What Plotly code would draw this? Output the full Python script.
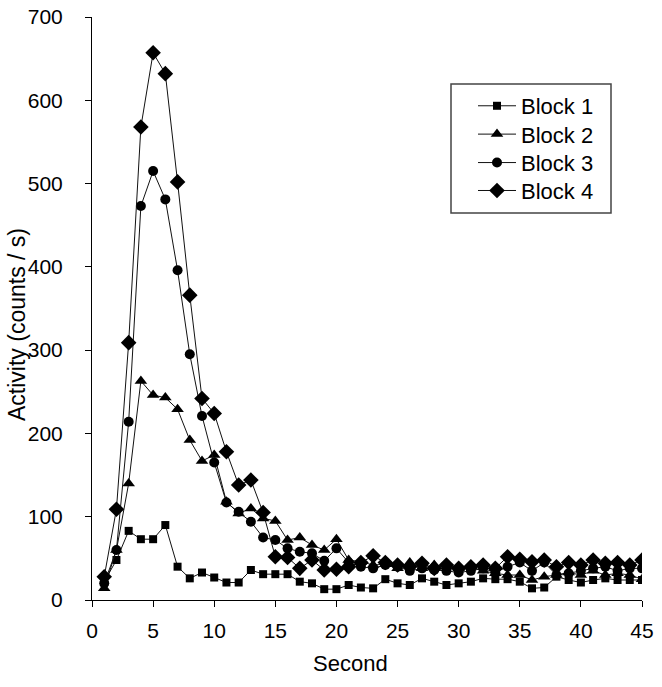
import plotly.graph_objects as go

seconds = list(range(1, 46))

block1 = [22, 48, 83, 73, 73, 90, 40, 26, 33, 27,
          21, 21, 36, 31, 31, 31, 22, 20, 13, 13,
          18, 15, 14, 25, 20, 18, 26, 22, 18, 20,
          22, 26, 25, 25, 22, 14, 15, 28, 24, 21,
          24, 26, 24, 24, 24]
block2 = [14, 60, 140, 263, 246, 243, 229, 192, 167, 174,
          118, 104, 110, 98, 95, 72, 75, 66, 60, 73,
          48, 46, 42, 43, 38, 45, 38, 42, 40, 38,
          40, 35, 32, 30, 30, 24, 28, 30, 33, 30,
          35, 30, 32, 30, 25]
block3 = [20, 60, 214, 473, 515, 481, 396, 295, 221, 165,
          117, 106, 94, 75, 72, 62, 58, 56, 47, 62,
          45, 40, 38, 42, 40, 35, 38, 36, 35, 33,
          35, 38, 33, 40, 45, 35, 45, 30, 32, 35,
          38, 40, 35, 38, 38]
block4 = [28, 109, 309, 568, 657, 632, 502, 366, 242, 224,
          178, 138, 144, 105, 52, 51, 38, 48, 36, 37,
          40, 45, 53, 45, 42, 40, 44, 38, 42, 38,
          40, 42, 38, 52, 49, 46, 48, 40, 45, 42,
          48, 44, 45, 42, 48]

names = ["Block 1", "Block 2", "Block 3", "Block 4"]
series = [block1, block2, block3, block4]
symbols = ["square", "triangle-up", "circle", "diamond"]
sizes = [8, 11, 10, 12]
x_ticks = [0, 5, 10, 15, 20, 25, 30, 35, 40, 45]
y_ticks = [0, 100, 200, 300, 400, 500, 600, 700]

FONT = "Arial, Liberation Sans, sans-serif"

legend_ids = ["legend", "legend2", "legend3", "legend4"]
legend_tops = [0.8834, 0.8348, 0.7860, 0.7381]

W, H = 662, 687
L, R, T, B = 92, 20, 17, 87
PW, PH = W - L - R, H - T - B


def px(x):
    return (x - L) / PW


def py(y):
    return (H - B - y) / PH


fig = go.Figure()
for name, vals, sym, sz, lid in zip(names, series, symbols, sizes, legend_ids):
    fig.add_trace(go.Scatter(
        x=seconds, y=vals, name=name, mode="lines+markers",
        line=dict(color="#111", width=1),
        marker=dict(symbol=sym, size=sz, color="black", line=dict(width=0)),
        legend=lid,
    ))

# legend frame
fig.add_shape(type="rect", xref="paper", yref="paper",
              x0=px(451), x1=px(611), y0=py(213), y1=py(84),
              line=dict(color="#444", width=1.5), fillcolor="rgba(0,0,0,0)")

fig.add_annotation(text="Activity (counts / s)", xref="paper", yref="paper",
                   x=px(17), y=py(325), xanchor="center", yanchor="middle",
                   textangle=-90, showarrow=False,
                   font=dict(family=FONT, size=23, color="black"))
fig.add_annotation(text="Second", xref="paper", yref="paper",
                   x=px(350), y=py(663), xanchor="center", yanchor="middle",
                   showarrow=False,
                   font=dict(family=FONT, size=22, color="black"))

legend_layout = {}
for lid, top in zip(legend_ids, legend_tops):
    legend_layout[lid] = dict(
        x=px(473), y=top, xanchor="left", yanchor="top",
        borderwidth=0, bgcolor="rgba(0,0,0,0)", itemwidth=38,
        font=dict(family=FONT, size=22, color="black"),
    )

fig.update_layout(
    width=W, height=H,
    margin=dict(l=L, r=R, t=T, b=B),
    paper_bgcolor="white", plot_bgcolor="white",
    font=dict(family=FONT, color="black", size=21),
    showlegend=True,
    xaxis=dict(
        range=[0, 45], tickvals=x_ticks,
        showline=True, linecolor="black", linewidth=1,
        ticks="outside", ticklen=6, tickcolor="black",
        showgrid=False, zeroline=False, automargin=False,
        tickfont=dict(size=21),
        ticklabelstandoff=6,
        ticklabeloverflow="allow",
    ),
    yaxis=dict(
        range=[0, 700], tickvals=y_ticks,
        showline=True, linecolor="black", linewidth=1,
        ticks="outside", ticklen=6, tickcolor="black",
        showgrid=False, zeroline=False, automargin=False,
        tickfont=dict(size=21),
        ticklabelstandoff=18,
        ticklabeloverflow="allow",
    ),
    **legend_layout,
)

fig.write_html("out.html", config={"displayModeBar": False},
               post_script="document.body.style.margin='0px';")
